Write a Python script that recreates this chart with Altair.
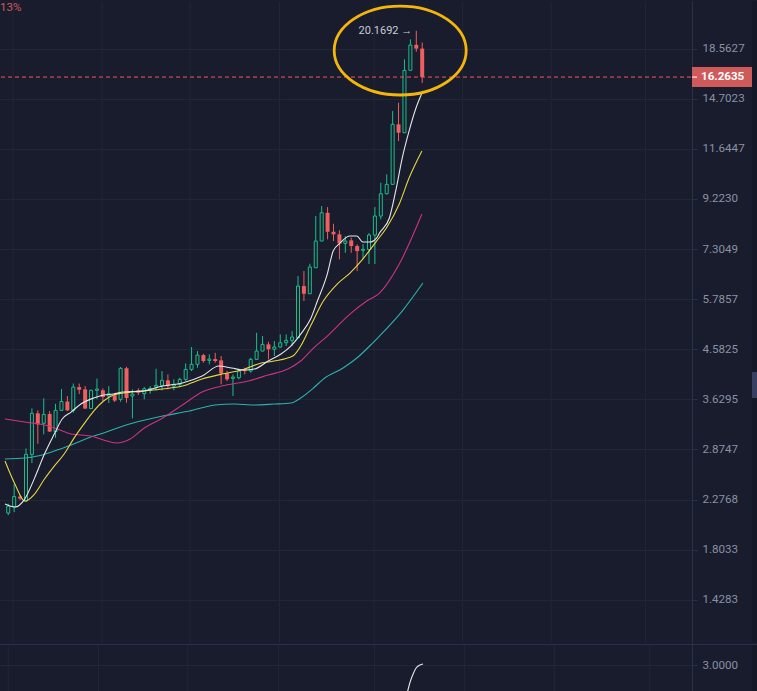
import altair as alt
import pandas as pd

# ---------------- data ----------------
candle_idx = list(range(71))
opens = [2.138, 2.199, 2.309, 2.261, 2.810, 3.401, 3.246, 3.390, 3.124, 3.448,
         3.593, 3.448, 3.843, 3.802, 3.477, 3.785, 3.786, 3.686, 3.699, 3.630,
         4.193, 3.686, 3.785, 3.725, 3.785, 3.843, 3.874, 3.965, 3.861, 3.892,
         3.984, 4.173, 4.272, 4.460, 4.352, 4.378, 4.352, 4.096, 4.002, 4.013,
         4.173, 4.140, 4.372, 4.544, 4.688, 4.582, 4.630, 4.723, 4.776, 4.834,
         6.149, 5.933, 6.696, 7.582, 8.649, 7.917, 7.822, 7.501, 7.607, 7.408,
         7.261, 7.288, 7.797, 8.518, 9.449, 9.871, 13.051, 12.551, 16.780, 18.894,
         18.569]
highs = [2.233, 2.447, 2.325, 2.889, 3.481, 3.448, 3.646, 3.437, 3.556, 3.808,
         3.686, 3.906, 3.906, 3.861, 3.799, 3.998, 3.820, 3.861, 3.725, 4.218,
         4.224, 3.802, 3.820, 3.843, 3.861, 4.185, 4.140, 4.077, 3.984, 4.013,
         4.292, 4.630, 4.544, 4.487, 4.475, 4.508, 4.440, 4.140, 4.077, 4.173,
         4.205, 4.405, 4.948, 4.873, 4.745, 4.761, 4.911, 4.911, 4.988, 6.442,
         6.594, 6.822, 8.518, 8.923, 8.882, 8.218, 7.969, 7.760, 7.699, 7.466,
         7.477, 7.870, 8.882, 9.945, 10.342, 13.884, 14.431, 17.661, 19.384, 20.1692,
         19.097]
lows = [2.118, 2.148, 2.271, 2.250, 2.698, 2.952, 3.084, 3.117, 3.036, 3.445,
        3.437, 3.410, 3.720, 3.469, 3.469, 3.634, 3.601, 3.568, 3.584, 3.589,
        3.573, 3.322, 3.703, 3.630, 3.725, 3.785, 3.785, 3.802, 3.785, 3.843,
        3.952, 4.140, 4.205, 4.304, 4.272, 4.304, 3.892, 3.952, 3.686, 3.984,
        4.077, 4.108, 4.372, 4.544, 4.372, 4.440, 4.614, 4.651, 4.651, 4.834,
        5.735, 5.933, 6.696, 7.582, 7.642, 7.582, 6.963, 7.180, 7.180, 6.594,
        6.973, 6.812, 6.812, 8.388, 9.423, 9.871, 12.075, 12.551, 16.780, 18.297,
        15.817]
closes = [2.209, 2.309, 2.287, 2.810, 3.401, 3.231, 3.385, 3.124, 3.448, 3.593,
          3.448, 3.843, 3.795, 3.477, 3.785, 3.808, 3.669, 3.724, 3.609, 4.193,
          3.652, 3.720, 3.743, 3.813, 3.820, 3.874, 3.965, 3.861, 3.892, 3.984,
          4.173, 4.272, 4.460, 4.338, 4.378, 4.338, 4.096, 3.984, 4.026, 4.140,
          4.140, 4.372, 4.544, 4.688, 4.582, 4.630, 4.723, 4.776, 4.850, 6.149,
          5.933, 6.718, 7.582, 8.649, 7.917, 7.822, 7.501, 7.582, 7.408, 7.237,
          7.295, 7.797, 8.518, 9.449, 9.871, 13.051, 12.551, 16.780, 18.876, 18.569,
          16.2635]

# moving-average lines (sampled positions in candle units, values)
ma_white_pos = [-0.55, 1.12, 2.78, 4.45, 6.12, 7.78, 9.12, 10.62, 12.28, 14.45,
                16.12, 17.78, 19.45, 22.78, 26.12, 29.45, 32.78, 35.62, 37.78, 39.95,
                41.62, 43.95, 46.12, 47.78, 49.45, 51.12, 52.28, 53.95, 54.95, 56.12,
                57.78, 58.95, 59.95, 61.12, 62.28, 62.78, 64.45, 65.62, 66.62, 67.78,
                68.95, 70.12]
ma_white_val = [2.230, 2.199, 2.282, 2.516, 2.814, 3.088, 3.312, 3.421, 3.551, 3.652,
                3.703, 3.720, 3.755, 3.772, 3.861, 3.916, 4.045, 4.238, 4.199, 4.160,
                4.179, 4.338, 4.481, 4.651, 4.918, 5.274, 5.735, 6.503, 7.237, 7.512,
                7.760, 7.760, 7.547, 7.547, 7.689, 7.870, 8.439, 9.703, 11.157, 12.651,
                14.080, 15.239]
ma_yellow_pos = [-0.55, 1.12, 2.78, 4.45, 6.12, 7.78, 9.45, 11.12, 12.78, 14.45,
                 16.12, 17.78, 19.45, 22.78, 26.12, 29.45, 32.78, 36.12, 39.45, 42.78,
                 44.95, 48.12, 49.45, 51.12, 53.28, 55.62, 57.78, 59.95, 62.28, 63.95,
                 66.12, 67.78, 69.95]
ma_yellow_val = [2.724, 2.447, 2.261, 2.336, 2.505, 2.661, 2.814, 3.031, 3.235, 3.437,
                 3.601, 3.703, 3.738, 3.772, 3.808, 3.861, 3.989, 4.083, 4.160, 4.297,
                 4.338, 4.440, 4.651, 5.105, 5.735, 6.207, 6.533, 6.973, 7.582, 8.055,
                 9.007, 10.165, 11.526]
ma_magenta_pos = [-0.55, 2.78, 6.12, 8.28, 10.62, 13.95, 16.12, 18.28, 20.62, 22.78,
                  26.12, 29.45, 32.78, 36.12, 40.62, 43.95, 47.28, 49.45, 51.62, 53.95,
                  57.78, 60.62, 62.78, 66.12, 69.95]
ma_magenta_val = [3.312, 3.266, 3.220, 3.161, 3.088, 3.060, 3.003, 2.962, 3.017, 3.161,
                  3.327, 3.535, 3.755, 3.861, 3.952, 4.064, 4.179, 4.338, 4.608, 4.873,
                  5.398, 5.735, 5.952, 6.812, 8.597]
ma_teal_pos = [-0.55, 2.78, 4.95, 7.78, 10.62, 13.95, 16.12, 18.95, 21.12, 26.12,
               30.62, 34.95, 38.28, 41.12, 44.95, 47.78, 49.45, 51.62, 53.28, 56.62,
               58.95, 61.62, 62.78, 66.62, 70.12]
ma_teal_val = [2.749, 2.762, 2.788, 2.853, 2.934, 3.045, 3.103, 3.191, 3.251, 3.358,
               3.437, 3.535, 3.551, 3.535, 3.551, 3.568, 3.652, 3.826, 3.989, 4.199,
               4.399, 4.717, 4.873, 5.474, 6.236]

price_ticks = [18.5627, 14.7023, 11.6447, 9.2230, 7.3049, 5.7857, 4.5825,
               3.6295, 2.8747, 2.2768, 1.8033, 1.4283]
last_price = 16.2635
date_grid_pos = [0.82, 15.87, 30.75, 45.88, 61.88, 76.85, 91.82, 107.75]

osc_pos = [66.8, 67.3, 67.8, 68.3, 68.8, 69.45, 69.95]
osc_val = [1.2, 1.6, 2.15, 2.55, 2.85, 3.0, 3.05]
osc_ticks = [3.0]

callout_pos = [66.28]
callout_price = [18.40]

# ---------------- style ----------------
BG = "#181c2c"
GRID = "#222637"
AXIS_LINE = "#2a3048"
LABEL = "#8b90a5"
GREEN = "#1bbf8d"
RED = "#ef5f5f"
FONT = "Roboto"
FS = 11.6

W, H_MAIN, H_SUB = 692, 642, 49
X_DOMAIN = [-0.55, 114.78]
Y_DOMAIN = [1.168, 23.17]

xs = alt.Scale(domain=X_DOMAIN, nice=False, zero=False)
ys = alt.Scale(type="log", domain=Y_DOMAIN, nice=False)

df = pd.DataFrame(dict(i=candle_idx, o=opens, h=highs, l=lows, c=closes))
up_cond = "datum.c >= datum.o"


def X(field):
    return alt.X(f"{field}:Q", scale=xs, axis=None)


grid_v = alt.Chart(pd.DataFrame({"g": date_grid_pos})).mark_rule(
    color=GRID, strokeWidth=1
).encode(x=X("g"), y=alt.value(1), y2=alt.value(H_MAIN))

wicks = alt.Chart(df).mark_rule(strokeWidth=1).encode(
    x=X("i"),
    y=alt.Y("l:Q", scale=ys, title=None,
            axis=alt.Axis(orient="right", values=price_ticks, format=".4f",
                          grid=True, gridColor=GRID, labelOverlap=False,
                          labelBound=False)),
    y2="h:Q",
    color=alt.condition(up_cond, alt.value(GREEN), alt.value(RED)),
)

bodies_up = alt.Chart(df).transform_filter(up_cond).mark_bar(
    size=3, fill=BG, stroke=GREEN, strokeWidth=1
).encode(x=X("i"), y=alt.Y("o:Q", scale=ys), y2="c:Q")

bodies_dn = alt.Chart(df).transform_filter("datum.c < datum.o").mark_bar(
    size=4, color=RED
).encode(x=X("i"), y=alt.Y("o:Q", scale=ys), y2="c:Q")


def ma_line(pos, val, color):
    d = pd.DataFrame({"x": pos, "v": val})
    return alt.Chart(d).mark_line(color=color, strokeWidth=1.1, clip=True,
                                  interpolate="monotone").encode(
        x=X("x"), y=alt.Y("v:Q", scale=ys))


lines = [
    ma_line(ma_teal_pos, ma_teal_val, "#2bb3ad"),
    ma_line(ma_magenta_pos, ma_magenta_val, "#cc3384"),
    ma_line(ma_yellow_pos, ma_yellow_val, "#e9d545"),
    ma_line(ma_white_pos, ma_white_val, "#e6e6ea"),
]

lp = pd.DataFrame({"p": [last_price], "t": [f"{last_price:.4f}"]})
dash = alt.Chart(lp).mark_rule(color="#f05a5a", strokeWidth=1, strokeDash=[4, 3]).encode(
    x=alt.value(1), x2=alt.value(W), y=alt.Y("p:Q", scale=ys))
price_box = alt.Chart(lp).mark_rect(color="#cf5a5a", yOffset=-10, y2Offset=10).encode(
    x=alt.value(W), x2=alt.value(752), y=alt.Y("p:Q", scale=ys), y2="p:Q")
price_tick = alt.Chart(lp).mark_rule(color="#ffffff", strokeWidth=1).encode(
    x=alt.value(W), x2=alt.value(W + 5), y=alt.Y("p:Q", scale=ys))
price_text = alt.Chart(lp).mark_text(color="#ffffff", fontSize=FS, fontWeight="bold",
                                     font=FONT, align="left", baseline="middle").encode(
    x=alt.value(W + 9), y=alt.Y("p:Q", scale=ys), text="t:N")

hi_i = highs.index(max(highs))
hi_df = pd.DataFrame({"x": [hi_i], "p": [max(highs)], "t": [f"{max(highs):.4f} →"]})
hi_text = alt.Chart(hi_df).mark_text(color="#c9ccd8", fontSize=11, font=FONT,
                                     align="right", baseline="middle", dx=-4).encode(
    x=X("x"), y=alt.Y("p:Q", scale=ys), text="t:N")

ell = alt.Chart(pd.DataFrame({"x": callout_pos, "p": callout_price})).mark_point(
    shape="M -1 0 A 1 0.674 0 1 0 1 0 A 1 0.674 0 1 0 -1 0 Z",
    size=17424, filled=False, stroke="#f5b60c", strokeWidth=2.8, opacity=1,
).encode(x=X("x"), y=alt.Y("p:Q", scale=ys))

pct = alt.Chart(lp).mark_text(color="#cf5a5a", fontSize=11.5, font=FONT,
                              align="left", baseline="top").encode(
    x=alt.value(0), y=alt.value(1), text=alt.value("13%"))

strip = alt.Chart(lp).mark_rect(color="#151827").encode(
    x=alt.value(752), x2=alt.value(757), y=alt.value(0), y2=alt.value(H_MAIN))
handle = alt.Chart(lp).mark_rect(color="#394062").encode(
    x=alt.value(752), x2=alt.value(757), y=alt.value(371), y2=alt.value(397))

main = alt.layer(grid_v, wicks, bodies_up, bodies_dn, *lines, dash, price_box,
                 price_tick, price_text, hi_text, ell, pct, strip, handle).properties(
    width=W, height=H_MAIN)

# ---------------- lower indicator pane ----------------
osc_df = pd.DataFrame({"x": osc_pos, "v": osc_val})
os_scale = alt.Scale(domain=[1.6, 4.05], nice=False, zero=False)
sub_grid = alt.Chart(pd.DataFrame({"g": date_grid_pos})).mark_rule(
    color=GRID, strokeWidth=1).encode(x=X("g"), y=alt.value(1), y2=alt.value(H_SUB))
osc = alt.Chart(osc_df).mark_line(color="#e6e6ea", strokeWidth=1.1, clip=True,
                                  interpolate="monotone").encode(
    x=X("x"),
    y=alt.Y("v:Q", scale=os_scale, title=None,
            axis=alt.Axis(orient="right", values=osc_ticks, format=".4f",
                          grid=True, gridColor=GRID)))
sep = alt.Chart(lp).mark_rect(color="#2a3150").encode(
    x=alt.value(0), x2=alt.value(757), y=alt.value(0), y2=alt.value(1))
strip2 = alt.Chart(lp).mark_rect(color="#151827").encode(
    x=alt.value(752), x2=alt.value(757), y=alt.value(1), y2=alt.value(H_SUB))
sub = alt.layer(sub_grid, osc, sep, strip2).properties(width=W, height=H_SUB)

chart = alt.vconcat(main, sub, spacing=0).properties(
    padding=0, background=BG
).configure_view(stroke=None).configure_axis(
    domainColor=AXIS_LINE, tickColor=AXIS_LINE, labelColor=LABEL,
    labelFont=FONT, labelFontSize=FS, tickSize=5, labelPadding=5,
    domainWidth=1,
)

chart.save("out.html", embed_options={"renderer": "svg", "actions": False})
